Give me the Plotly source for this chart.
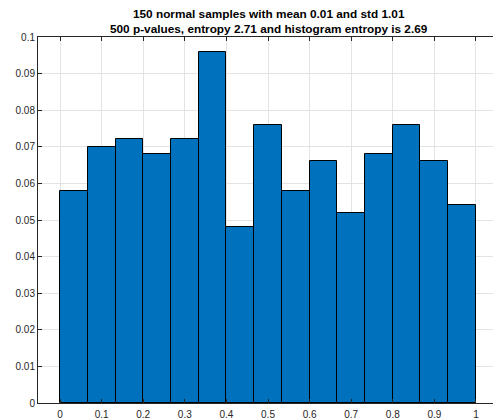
import plotly.graph_objects as go

# Normalized histogram of 500 p-values, 15 equal bins over [0, 1]
bin_start = 0.0
bin_end = 1.0
n_bins = 15
probabilities = [0.058, 0.070, 0.072, 0.068, 0.072, 0.096, 0.048, 0.076,
                 0.058, 0.066, 0.052, 0.068, 0.076, 0.066, 0.054]
x_ticks = [0, 0.1, 0.2, 0.3, 0.4, 0.5, 0.6, 0.7, 0.8, 0.9, 1]
x_tick_text = ["0", "0.1", "0.2", "0.3", "0.4", "0.5", "0.6", "0.7", "0.8", "0.9", "1"]
y_ticks = [0, 0.01, 0.02, 0.03, 0.04, 0.05, 0.06, 0.07, 0.08, 0.09, 0.1]
y_tick_text = ["0", "0.01", "0.02", "0.03", "0.04", "0.05", "0.06", "0.07", "0.08", "0.09", "0.1"]
title_lines = ["150 normal samples with mean 0.01 and std 1.01",
               "500 p-values, entropy 2.71 and histogram entropy is 2.69"]

width = (bin_end - bin_start) / n_bins
centers = [bin_start + (i + 0.5) * width for i in range(n_bins)]

fig = go.Figure(go.Bar(
    x=centers, y=probabilities, width=width,
    marker=dict(color="#0072BD", line=dict(color="#000000", width=1)),
    hoverinfo="x+y",
))

font_family = "Liberation Sans, Arial, sans-serif"
axis_common = dict(
    showline=True, linecolor="#262626", linewidth=1,
    ticks="inside", ticklen=4, tickcolor="#262626",
    showgrid=True, gridcolor="#E3E3E3", gridwidth=1,
    zeroline=False,
    tickfont=dict(family=font_family, size=10, color="#262626"),
)

# Two-line bold title above the axes box
for i, line in enumerate(title_lines):
    fig.add_annotation(
        text="<b>%s</b>" % line,
        xref="paper", yref="paper", x=0.508, y=1.0,
        xanchor="center", yanchor="middle",
        yshift=23 - 15 * i,
        showarrow=False,
        font=dict(family=font_family, size=11.8, color="#000000"),
    )

fig.update_layout(
    width=493, height=419,
    margin=dict(l=38, r=0, t=37, b=16),
    paper_bgcolor="white", plot_bgcolor="white",
    showlegend=False,
    bargap=0,
    xaxis=dict(range=[-0.053, 1.041], tickvals=x_ticks, ticktext=x_tick_text,
               mirror="allticks", ticklabelstandoff=2, **axis_common),
    yaxis=dict(range=[0, 0.1], tickvals=y_ticks, ticktext=y_tick_text,
               mirror=False, **axis_common),
)

fig.write_html("out.html")
